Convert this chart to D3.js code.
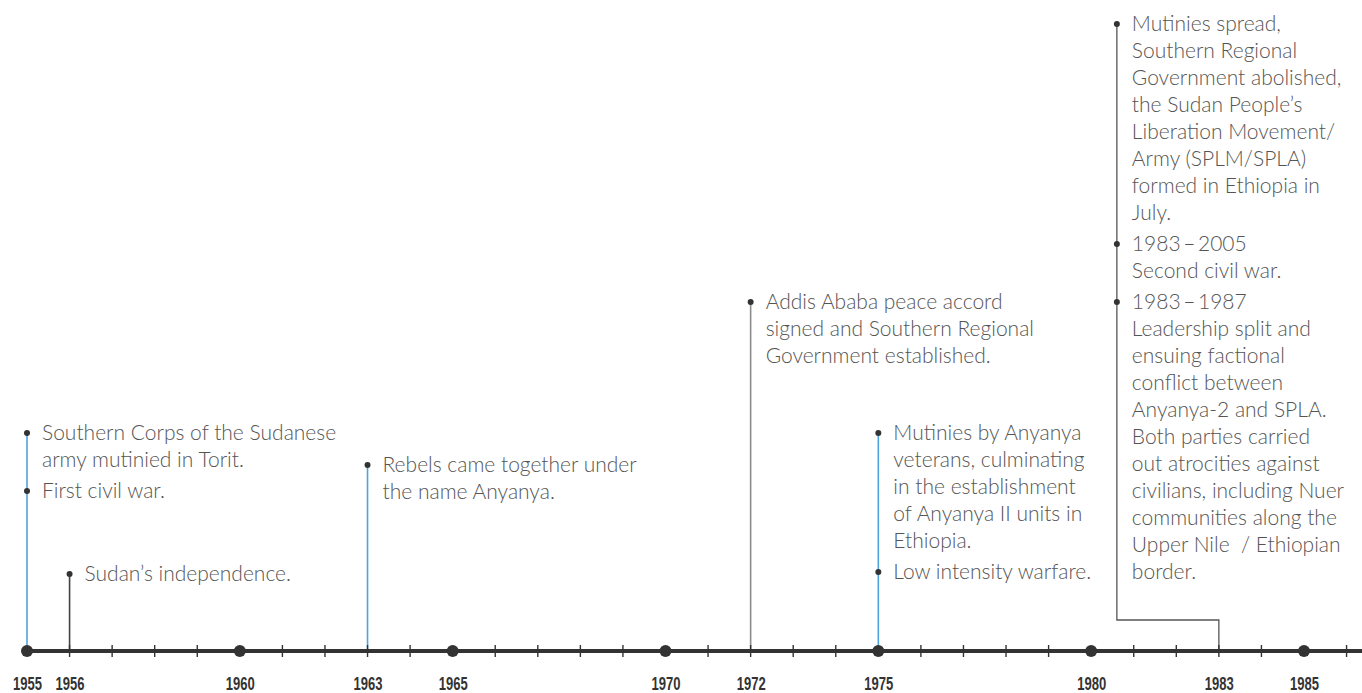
<!DOCTYPE html>
<html>
<head>
<meta charset="utf-8">
<script src="https://cdn.jsdelivr.net/npm/d3@7"></script>
<style>
	body { margin: 0; background: #fff; }
	.event-text { font-family: "Lato", "Open Sans", sans-serif; font-weight: 300; font-size: 21px; fill: #555; white-space: pre; }
	.year-label { font-family: "Liberation Sans", Arial, sans-serif; font-weight: bold; font-size: 19px; fill: #333; }
</style>
</head>
<body>
<svg width="1362" height="693" id="timeline"></svg>
<script>
	// timeline data
	var majorYears = [1955, 1960, 1965, 1970, 1975, 1980, 1985];
	var labelYears = [1955, 1956, 1960, 1963, 1965, 1970, 1972, 1975, 1980, 1983, 1985];
	var tickYears = [1956, 1957, 1958, 1959, 1961, 1962, 1963, 1964, 1966, 1967, 1968, 1969, 1971, 1972, 1973,
		1974, 1976, 1977, 1978, 1979, 1981, 1982, 1983, 1984, 1986];

	var eventYears = [1955, 1956, 1963, 1972, 1975, 1983];
	var eventKinds = ["blue", "dark", "blue", "light", "blue", "dark"];
	var eventTexts = [
		[["Southern Corps of the Sudanese", "army mutinied in Torit."], ["First civil war."]],
		[["Sudan\u2019s independence."]],
		[["Rebels came together under", "the name Anyanya."]],
		[["Addis Ababa peace accord", "signed and Southern Regional", "Government established."]],
		[["Mutinies by Anyanya", "veterans, culminating", "in the establishment", "of Anyanya II units in", "Ethiopia."],
			["Low intensity warfare."]],
		[["Mutinies spread,", "Southern Regional", "Government abolished,", "the Sudan People\u2019s",
			"Liberation Movement/", "Army (SPLM/SPLA)", "formed in Ethiopia in", "July."],
			["1983\u2009\u2013\u20092005", "Second civil war."],
			["1983\u2009\u2013\u20091987", "Leadership split and", "ensuing factional", "conflict between",
				"Anyanya-2 and SPLA.", "Both parties carried", "out atrocities against", "civilians, including Nuer",
				"communities along the", "Upper Nile  / Ethiopian", "border."]]
	];

	// layout
	var eventTop = [433, 574, 465, 302, 433, 24];
	var lineH = 27, itemGap = 31;
	var colors = { blue: "#4fa3dc", dark: "#444", light: "#8c8c8c" };

	var svg = d3.select("svg#timeline"),
		width = +svg.attr("width"),
		axisY = 651;

	var x = d3.scaleLinear()
		.domain([1955, 1985])
		.range([27, 1304]);

	// stems (drawn below the axis)
	eventYears.forEach(function(yr, i) {
		var sx = x(yr), top = eventTop[i];
		if (yr === 1983) {
			// elbow stem, shifted left to make room
			var lx = sx - 102;
			svg.append("path")
				.attr("d", "M" + sx + "," + axisY + "V620H" + lx + "V" + top)
				.attr("fill", "none")
				.attr("stroke", "#555")
				.attr("stroke-width", 1.3);
		} else {
			svg.append("line")
				.attr("x1", sx).attr("x2", sx)
				.attr("y1", top).attr("y2", axisY)
				.attr("stroke", colors[eventKinds[i]])
				.attr("stroke-width", 1.6);
		}
	});

	// main axis line
	svg.append("line")
		.attr("x1", x(1955)).attr("x2", width)
		.attr("y1", axisY).attr("y2", axisY)
		.attr("stroke", "#333")
		.attr("stroke-width", 4);

	svg.selectAll(".minor")
		.data(tickYears)
		.enter().append("line")
		.attr("class", "minor")
		.attr("x1", function(d) { return x(d); })
		.attr("x2", function(d) { return x(d); })
		.attr("y1", axisY - 6).attr("y2", axisY + 6)
		.attr("stroke", "#333")
		.attr("stroke-width", 1.4);

	svg.selectAll(".major")
		.data(majorYears)
		.enter().append("circle")
		.attr("class", "major")
		.attr("cx", function(d) { return x(d); })
		.attr("cy", axisY)
		.attr("r", 6)
		.attr("fill", "#333");

	// year labels (condensed look via textLength)
	var axis = svg.append("g")
		.attr("transform", "translate(0," + (axisY + 25) + ")")
		.call(d3.axisBottom(x).tickValues(labelYears).tickFormat(d3.format("d")).tickSize(0));
	axis.select(".domain").remove();
	axis.attr("font-family", null).attr("font-size", null);
	axis.selectAll("text")
		.attr("class", "year-label")
		.attr("y", 0)
		.attr("dy", "13.5px")
		.attr("fill", null)
		.attr("textLength", 29)
		.attr("lengthAdjust", "spacingAndGlyphs");

	// event text blocks
	eventYears.forEach(function(yr, i) {
		var sx = yr === 1983 ? x(yr) - 102 : x(yr);
		var yy = eventTop[i];
		eventTexts[i].forEach(function(item) {
			svg.append("circle")
				.attr("cx", sx).attr("cy", yy)
				.attr("r", 3)
				.attr("fill", "#333");
			var t = svg.append("text")
				.attr("class", "event-text")
				.attr("x", sx + 15)
				.attr("y", yy + 7);
			item.forEach(function(line, j) {
				t.append("tspan")
					.attr("x", sx + 15)
					.attr("dy", j === 0 ? 0 : lineH)
					.text(line);
			});
			yy += (item.length - 1) * lineH + itemGap;
		});
	});
</script>
</body>
</html>
